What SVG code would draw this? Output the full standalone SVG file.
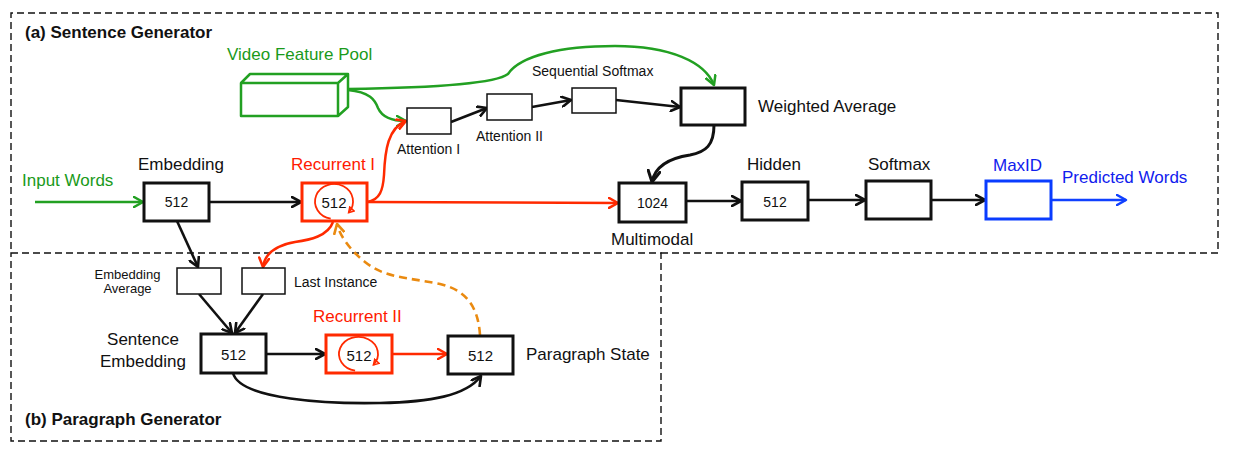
<svg xmlns="http://www.w3.org/2000/svg" width="1256" height="453" viewBox="0 0 1256 453">
<style>
text{font-family:"Liberation Sans",Arial,sans-serif;fill:#111}
.lbl{font-size:17px}
.num{font-size:14px;text-anchor:middle}
.num2{font-size:15px;text-anchor:middle}
.sm{font-size:14px}
.xs{font-size:13px;text-anchor:middle}
.title{font-size:17px;font-weight:bold}
.frame{fill:none;stroke:#111;stroke-width:1.4;stroke-dasharray:7 4}
.thick{fill:#fff;stroke:#111;stroke-width:3}
.thin{fill:#fff;stroke:#111;stroke-width:1.5}
.redbox{fill:#fff;stroke:#ff2a00;stroke-width:3}
.bluebox{fill:#fff;stroke:#0a3cff;stroke-width:3}
.green{fill:none;stroke:#22a022;stroke-width:2.5}
.k{fill:none;stroke:#111;stroke-width:2.6}
.r{fill:none;stroke:#ff2a00;stroke-width:2.5}
.b{fill:none;stroke:#1040ff;stroke-width:2.5}
.o{fill:none;stroke:#ea8a10;stroke-width:2.6;stroke-dasharray:8 5}
.gt{fill:#1a9a1a}
.rt{fill:#ff1a00}
.bt{fill:#1020ee}
</style>
<defs>
<marker id="ak" viewBox="0 0 12 12" refX="10" refY="6" markerWidth="12" markerHeight="12" markerUnits="userSpaceOnUse" orient="auto"><path d="M1,1 L10,6 L1,11" fill="none" stroke="#111" stroke-width="2.6" stroke-linecap="round" stroke-linejoin="round"/></marker>
<marker id="akb" viewBox="0 0 14 14" refX="12" refY="7" markerWidth="14" markerHeight="14" markerUnits="userSpaceOnUse" orient="auto"><path d="M1,1 L12,7 L1,13" fill="none" stroke="#111" stroke-width="3" stroke-linecap="round" stroke-linejoin="round"/></marker>
<marker id="ag" viewBox="0 0 12 12" refX="10" refY="6" markerWidth="12" markerHeight="12" markerUnits="userSpaceOnUse" orient="auto"><path d="M1,1 L10,6 L1,11" fill="none" stroke="#22a022" stroke-width="2.5" stroke-linecap="round" stroke-linejoin="round"/></marker>
<marker id="ar" viewBox="0 0 12 12" refX="10" refY="6" markerWidth="12" markerHeight="12" markerUnits="userSpaceOnUse" orient="auto"><path d="M1,1 L10,6 L1,11" fill="none" stroke="#ff2a00" stroke-width="2.5" stroke-linecap="round" stroke-linejoin="round"/></marker>
<marker id="ab" viewBox="0 0 12 12" refX="10" refY="6" markerWidth="12" markerHeight="12" markerUnits="userSpaceOnUse" orient="auto"><path d="M1,1 L10,6 L1,11" fill="none" stroke="#1040ff" stroke-width="2.5" stroke-linecap="round" stroke-linejoin="round"/></marker>
<marker id="ao" viewBox="0 0 12 12" refX="10" refY="6" markerWidth="12" markerHeight="12" markerUnits="userSpaceOnUse" orient="auto"><path d="M1,1 L10,6 L1,11" fill="none" stroke="#ea8a10" stroke-width="2.6" stroke-linecap="round" stroke-linejoin="round"/></marker>
<marker id="aloop" viewBox="0 0 8 8" refX="6" refY="4" markerWidth="8" markerHeight="8" markerUnits="userSpaceOnUse" orient="auto"><path d="M1,1 L6,4 L1,7 z" fill="none" stroke="#ff2a00" stroke-width="1.5"/></marker>
</defs>

<g id="frames">
<path class="frame" d="M661,253 H1218 V13 H11 V253"/>
<rect class="frame" x="11" y="253" width="650" height="188"/>
<text class="title" x="25" y="38">(a) Sentence Generator</text>
<text class="title" x="25" y="425">(b) Paragraph Generator</text>
</g>

<g id="connectors">
<line class="green" x1="35" y1="202" x2="143" y2="202" marker-end="url(#ag)"/>
<path class="green" d="M348,89 C 420,88 495,84 508,74 C 520,56 560,46 615,46 C 670,46 705,62 714,85" marker-end="url(#ag)"/>
<path class="green" d="M348,90 C 370,92 375,100 378,108 C 382,117 392,121 406,121" marker-end="url(#ag)"/>
<line class="k" x1="209" y1="202" x2="301" y2="202" marker-end="url(#ak)"/>
<line class="k" x1="451" y1="122" x2="487" y2="108" marker-end="url(#ak)"/>
<line class="k" x1="532" y1="107" x2="571" y2="100" marker-end="url(#ak)"/>
<line class="k" x1="616" y1="100" x2="680" y2="107" marker-end="url(#ak)"/>
<path class="k" style="stroke-width:3" d="M714,125 C 714,145 706,152 690,155 C 670,158 655,166 652,182" marker-end="url(#akb)"/>
<line class="k" x1="686" y1="201" x2="741" y2="201" marker-end="url(#ak)"/>
<line class="k" x1="808" y1="200" x2="865" y2="200" marker-end="url(#ak)"/>
<line class="k" x1="931" y1="200" x2="985" y2="200" marker-end="url(#ak)"/>
<line class="k" x1="177" y1="221" x2="198" y2="267" marker-end="url(#ak)"/>
<line class="k" x1="199" y1="294" x2="232" y2="333" marker-end="url(#ak)"/>
<line class="k" x1="263" y1="294" x2="235" y2="333" marker-end="url(#ak)"/>
<line class="k" x1="266" y1="354" x2="325" y2="354" marker-end="url(#ak)"/>
<path class="k" d="M233,373 C 240,400 330,404 380,403 C 430,402 466,396 481,376" marker-end="url(#ak)"/>
<line class="b" x1="1051" y1="200" x2="1126" y2="200" marker-end="url(#ab)"/>
<line class="r" x1="367" y1="202" x2="618" y2="203" marker-end="url(#ar)"/>
<path class="r" d="M367,202 C 380,200 383,190 384,175 C 385,150 388,128 406,121" marker-end="url(#ar)"/>
<path class="r" d="M333,222 C 328,236 310,240 295,242 C 278,245 265,252 263,267" marker-end="url(#ar)"/>
<line class="r" x1="392" y1="354" x2="447" y2="354" marker-end="url(#ar)"/>
<path class="o" d="M480,335 C 478,305 465,290 440,284 C 405,277 385,278 365,262 C 350,250 340,236 337,224" marker-end="url(#ao)"/>
</g>

<g id="video-feature-pool">
<path class="green" d="M241,83 H338 V116 H241 Z M241,83 L250,74 H348 L338,83 M348,74 V107 L338,116" stroke-linejoin="round"/>
<text class="lbl gt" x="227" y="60">Video Feature Pool</text>
</g>

<g id="input-words"><text class="lbl gt" x="22" y="186">Input Words</text></g>

<g id="embedding">
<rect class="thick" x="144" y="183" width="65" height="38"/>
<text class="num" x="176.5" y="207">512</text>
<text class="lbl" x="138" y="170">Embedding</text>
</g>

<g id="recurrent-1">
<rect class="redbox" x="302" y="183" width="65" height="38"/>
<path class="r" style="stroke-width:1.8" d="M330.7,218.7 A19,17.5 0 1 1 348.6,212.7" marker-end="url(#aloop)"/>
<text class="num2" x="334" y="208">512</text>
<text class="lbl rt" x="291" y="170">Recurrent I</text>
</g>

<g id="attention-1">
<rect class="thin" x="407" y="108" width="44" height="26"/>
<text class="sm" x="397" y="154">Attention I</text>
</g>

<g id="attention-2">
<rect class="thin" x="487" y="94" width="45" height="26"/>
<text class="sm" x="476" y="141">Attention II</text>
</g>

<g id="sequential-softmax">
<rect class="thin" x="572" y="88" width="44" height="25"/>
<text class="sm" x="532" y="76">Sequential Softmax</text>
</g>

<g id="weighted-average">
<rect class="thick" x="681" y="88" width="64" height="37"/>
<text class="lbl" x="758" y="112">Weighted Average</text>
</g>

<g id="multimodal">
<rect class="thick" x="619" y="183" width="67" height="39"/>
<text class="num" x="652.5" y="208">1024</text>
<text class="lbl" x="611" y="245">Multimodal</text>
</g>

<g id="hidden">
<rect class="thick" x="742" y="182" width="66" height="38"/>
<text class="num" x="775" y="207">512</text>
<text class="lbl" x="747" y="170">Hidden</text>
</g>

<g id="softmax">
<rect class="thick" x="866" y="181" width="65" height="38"/>
<text class="lbl" x="868" y="170">Softmax</text>
</g>

<g id="maxid">
<rect class="bluebox" x="986" y="181" width="65" height="38"/>
<text class="lbl bt" x="993" y="171">MaxID</text>
</g>

<g id="predicted-words"><text class="lbl bt" x="1062" y="183">Predicted Words</text></g>

<g id="embedding-average">
<rect class="thin" x="177" y="268" width="44" height="26"/>
<text class="xs" x="127.5" y="279">Embedding</text>
<text class="xs" x="127.5" y="293">Average</text>
</g>

<g id="last-instance">
<rect class="thin" x="242" y="268" width="43" height="26"/>
<text class="sm" x="294" y="287">Last Instance</text>
</g>

<g id="sentence-embedding">
<rect class="thick" x="201" y="334" width="65" height="39"/>
<text class="num2" x="233.5" y="360">512</text>
<text class="lbl" x="143" y="345" text-anchor="middle">Sentence</text>
<text class="lbl" x="143" y="367" text-anchor="middle">Embedding</text>
</g>

<g id="recurrent-2">
<rect class="redbox" x="326" y="335" width="66" height="38"/>
<path class="r" style="stroke-width:1.8" d="M355.1,370.7 A19.5,17 0 1 1 373.4,364.9" marker-end="url(#aloop)"/>
<text class="num2" x="359" y="361">512</text>
<text class="lbl rt" x="313" y="322">Recurrent II</text>
</g>

<g id="paragraph-state">
<rect class="thick" x="448" y="336" width="65" height="38"/>
<text class="num2" x="480.5" y="361">512</text>
<text class="lbl" x="526" y="360">Paragraph State</text>
</g>
</svg>
